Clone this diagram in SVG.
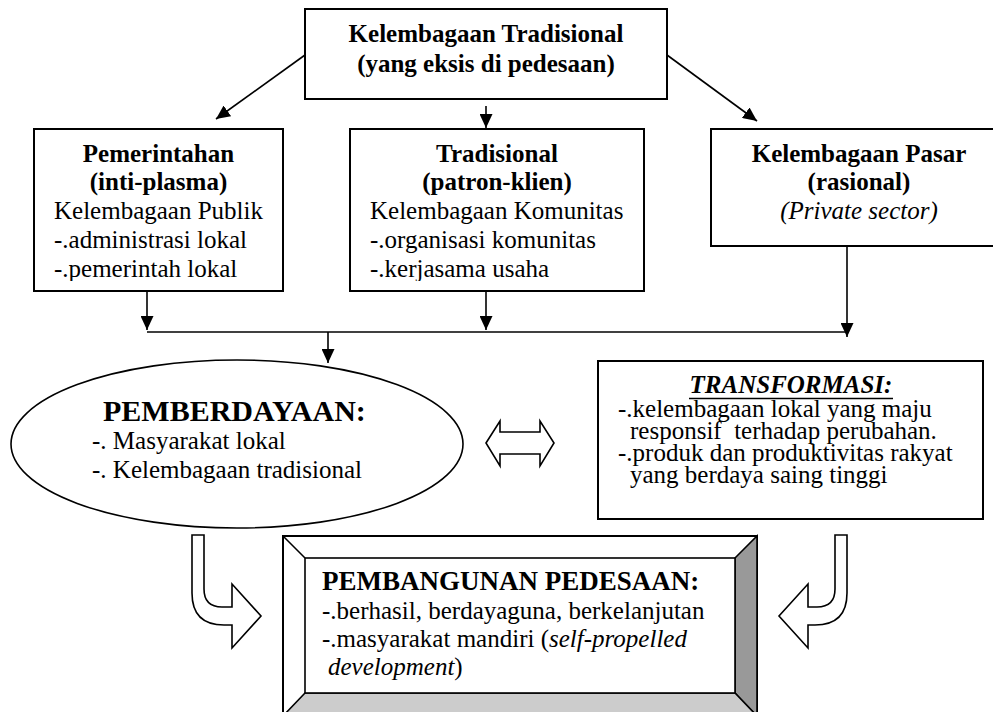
<svg xmlns="http://www.w3.org/2000/svg" width="993" height="712" viewBox="0 0 993 712">
<style>
text{font-family:"Liberation Serif","Times New Roman",serif;font-size:25px;fill:#000}
.b{font-weight:bold}
.i{font-style:italic}
.c{text-anchor:middle}
.box{fill:#fff;stroke:#000;stroke-width:2}
.ln{fill:none;stroke:#000;stroke-width:1.6}
.big{fill:#fff;stroke:#000;stroke-width:1.6;stroke-linejoin:miter}
</style>
<defs>
<marker id="ah" markerUnits="userSpaceOnUse" markerWidth="14" markerHeight="13" refX="14" refY="6.5" orient="auto">
<path d="M0,0 L14,6.5 L0,13 Z" fill="#000"/>
</marker>
<clipPath id="clipLow"><rect x="0" y="0" width="993" height="281"/></clipPath>
</defs>
<rect width="993" height="712" fill="#fff"/>

<g id="connectors">
<line class="ln" x1="305" y1="55" x2="216" y2="119" marker-end="url(#ah)"/>
<line class="ln" x1="486" y1="106" x2="486" y2="128" marker-end="url(#ah)"/>
<line class="ln" x1="667" y1="55" x2="757" y2="121" marker-end="url(#ah)"/>
<line class="ln" x1="147" y1="285" x2="147" y2="330" marker-end="url(#ah)"/>
<line class="ln" x1="486" y1="285" x2="486" y2="330" marker-end="url(#ah)"/>
<line class="ln" x1="847" y1="246" x2="847" y2="337" marker-end="url(#ah)"/>
<line class="ln" x1="147" y1="332" x2="847" y2="332"/>
<line class="ln" x1="328" y1="332" x2="328" y2="363" marker-end="url(#ah)"/>
<polygon class="big" points="486,443 500,421 500,432 540,432 540,421 554,443 540,466 540,454 500,454 500,466"/>
<path class="big" d="M192,535 H204 V589 Q204,607 222,607 H232 V584 L261,616 L232,648 V625 H224 Q192,625 192,593 Z"/>
<path class="big" d="M847,535 H835 V589 Q835,607 817,607 H808 V584 L779,616 L808,648 V625 H815 Q847,625 847,593 Z"/>
</g>

<g id="top">
<rect class="box" x="305" y="9" width="362" height="90"/>
<text class="b c" x="486" y="42">Kelembagaan Tradisional</text>
<text class="b c" x="486" y="72">(yang eksis di pedesaan)</text>
</g>

<g id="pemerintahan">
<rect class="box" x="34" y="129" width="249" height="162"/>
<g clip-path="url(#clipLow)">
<text class="b c" x="158.5" y="162">Pemerintahan</text>
<text class="b c" x="158.5" y="190">(inti-plasma)</text>
<text x="54" y="219">Kelembagaan Publik</text>
<text x="54" y="248">-.administrasi lokal</text>
<text x="54" y="277">-.pemerintah lokal</text>
</g>
</g>

<g id="tradisional">
<rect class="box" x="350" y="129" width="294" height="162"/>
<g clip-path="url(#clipLow)">
<text class="b c" x="497" y="162">Tradisional</text>
<text class="b c" x="497" y="190">(patron-klien)</text>
<text x="370" y="219">Kelembagaan Komunitas</text>
<text x="370" y="248">-.organisasi komunitas</text>
<text x="370" y="277">-.kerjasama usaha</text>
</g>
</g>

<g id="pasar">
<rect class="box" x="711" y="129" width="296" height="117"/>
<text class="b c" x="859" y="162">Kelembagaan Pasar</text>
<text class="b c" x="859" y="190">(rasional)</text>
<text class="i c" x="859" y="219">(Private sector)</text>
</g>

<g id="pemberdayaan">
<ellipse cx="237" cy="444" rx="226" ry="84" fill="#fff" stroke="#000" stroke-width="1.6"/>
<text class="b" x="103" y="421" style="font-size:30px">PEMBERDAYAAN:</text>
<text x="92" y="449">-. Masyarakat lokal</text>
<text x="92" y="478">-. Kelembagaan tradisional</text>
</g>

<g id="transformasi">
<rect class="box" x="598" y="361" width="385" height="158"/>
<text class="b i c" x="791" y="393">TRANSFORMASI:</text>
<line x1="689" y1="398.5" x2="893" y2="398.5" stroke="#000" stroke-width="1.6"/>
<text x="618" y="417">-.kelembagaan lokal yang maju</text>
<text x="630" y="439" xml:space="preserve">responsif  terhadap perubahan.</text>
<text x="618" y="461">-.produk dan produktivitas rakyat</text>
<text x="630" y="483">yang berdaya saing tinggi</text>
</g>

<g id="pembangunan">
<rect x="283" y="536" width="474" height="180" fill="#fff" stroke="#000" stroke-width="2"/>
<polygon points="735,558 757,536 757,716 735,693" fill="#999" stroke="#000" stroke-width="1.6"/>
<polygon points="305,693 735,693 757,716 283,716" fill="#ccc" stroke="#000" stroke-width="1.6"/>
<line x1="283" y1="536" x2="305" y2="558" stroke="#000" stroke-width="1.6"/>
<rect x="305" y="558" width="430" height="135" fill="#fff" stroke="#000" stroke-width="1.6"/>
<text class="b" x="322" y="590" style="font-size:27px">PEMBANGUNAN PEDESAAN:</text>
<text x="322" y="619">-.berhasil, berdayaguna, berkelanjutan</text>
<text x="322" y="647">-.masyarakat mandiri (<tspan class="i">self-propelled</tspan></text>
<text x="328" y="675"><tspan class="i">development</tspan>)</text>
</g>
</svg>
